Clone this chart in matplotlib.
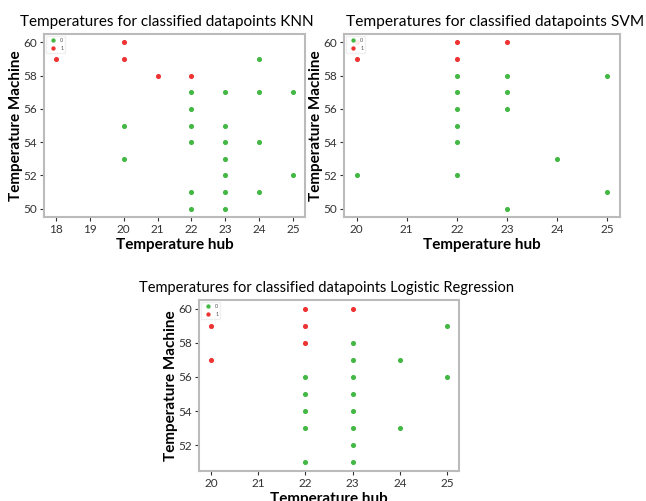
import matplotlib.pyplot as plt

plt.rcParams['font.family'] = ['Lato', 'DejaVu Sans']

# KNN
knn_x0 = [20, 20, 22, 22, 22, 22, 22, 22, 23, 23, 23, 23, 23, 23, 23, 24, 24, 24, 24, 25, 25]
knn_y0 = [55, 53, 57, 56, 55, 54, 51, 50, 57, 55, 54, 53, 52, 51, 50, 59, 57, 54, 51, 57, 52]
knn_x1 = [18, 20, 20, 21, 22]
knn_y1 = [59, 60, 59, 58, 58]

# SVM
svm_x0 = [20, 22, 22, 22, 22, 22, 22, 23, 23, 23, 23, 24, 25, 25]
svm_y0 = [52, 58, 57, 56, 55, 54, 52, 58, 57, 56, 50, 53, 58, 51]
svm_x1 = [20, 20, 22, 22, 23]
svm_y1 = [60, 59, 60, 59, 60]

# Logistic Regression
lr_x0 = [22, 22, 22, 22, 22, 23, 23, 23, 23, 23, 23, 23, 23, 24, 24, 25, 25]
lr_y0 = [56, 55, 54, 53, 51, 58, 57, 56, 55, 54, 53, 52, 51, 57, 53, 59, 56]
lr_x1 = [20, 20, 22, 22, 22, 23]
lr_y1 = [59, 57, 60, 59, 58, 60]

green = '#44b844'
red = '#ee3333'

fig = plt.figure(figsize=(6.46, 5.01), dpi=100)
W, H = 646, 501

def make_ax(l, t, r, b):
    return fig.add_axes([l / W, 1 - b / H, (r - l) / W, (b - t) / H])

axes = [make_ax(44, 34, 305, 217), make_ax(344, 34, 620, 217), make_ax(199, 300, 459, 471)]
# name, title centre (axes fraction), title width in pixels
data = [(knn_x0, knn_y0, knn_x1, knn_y1, 'KNN', 0.47, 293),
        (svm_x0, svm_y0, svm_x1, svm_y1, 'SVM', 0.547, 296),
        (lr_x0, lr_y0, lr_x1, lr_y1, 'Logistic Regression', 0.491, 372)]

renderer = fig.canvas.get_renderer()
for ax, (x0, y0, x1, y1, name, tx, tw) in zip(axes, data):
    ax.scatter(x0, y0, s=7, color=green, label='0', zorder=3)
    ax.scatter(x1, y1, s=7, color=red, label='1', zorder=3)
    title = ax.set_title('Temperatures for classified datapoints ' + name, fontsize=12, pad=6, x=tx)
    w = title.get_window_extent(renderer).width
    title.set_fontsize(12 * tw / w)
    ax.set_xlabel('Temperature hub', fontsize=11, fontweight='bold', labelpad=2)
    ax.set_ylabel('Temperature Machine', fontsize=11, fontweight='bold', labelpad=0.5)
    ax.set_xticks(range(min(x0 + x1), max(x0 + x1) + 1))
    ax.set_yticks(range(50, 61, 2))
    ax.set_ylim(min(y0 + y1) - 0.5, max(y0 + y1) + 0.5)
    ax.tick_params(labelsize=8.5, colors='#333333', length=3, width=0.8, pad=2)
    for sp in ax.spines.values():
        sp.set_color('#bbbbbb')
        sp.set_linewidth(1.5)
    leg = ax.legend(loc='upper left', fontsize=4, markerscale=0.8, handletextpad=0.2,
                    borderpad=0.4, labelspacing=0.5, borderaxespad=0.3, framealpha=0.9)
    leg.get_frame().set_edgecolor('#eeeeee')
    for t in leg.get_texts():
        t.set_color('#555555')

fig.savefig('out.png', dpi=100)
